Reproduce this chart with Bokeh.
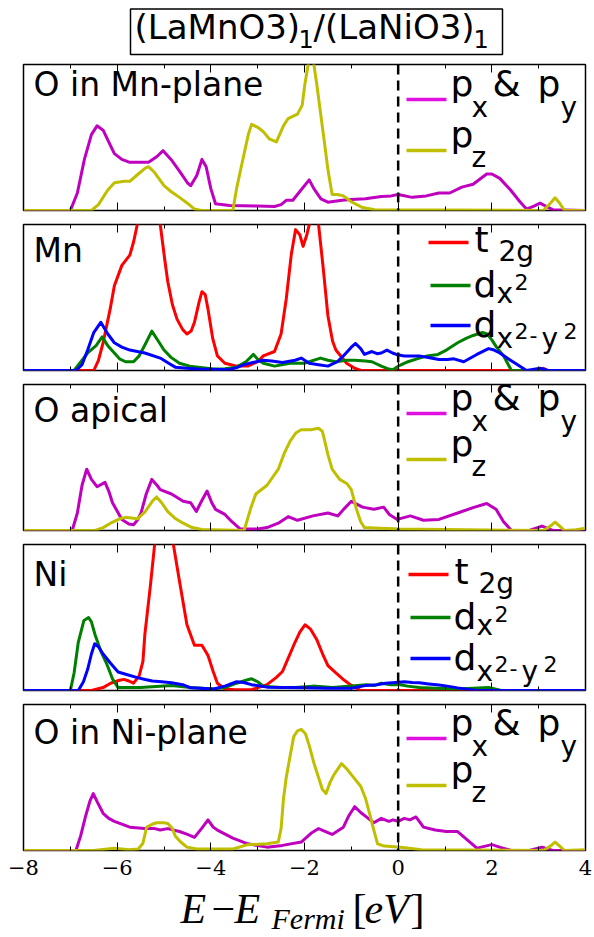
from bokeh.plotting import figure
from bokeh.models import Range1d, LinearAxis, FixedTicker, Span, Label
from bokeh.layouts import column
from bokeh.embed import file_html
from bokeh.resources import INLINE
from bokeh.core.properties import value

# ---------------- data ----------------
X_RANGE = (-8, 4)
MAJOR_TICKS = [-8, -6, -4, -2, 0, 2, 4]
MINOR_TICKS = [-7, -5, -3, -1, 1, 3]
TICK_LABELS = ["\u22128", "\u22126", "\u22124", "\u22122", "0", "2", "4"]
TITLE_PARTS = ["(LaMnO3)", "1", "/(LaNiO3)", "1"]
PANEL_NAMES = ["O in Mn-plane", "Mn", "O apical", "Ni", "O in Ni-plane"]

# Panel 1: O in Mn-plane
omn_pxy_x = [-8, -7.0, -6.85, -6.7, -6.55, -6.43, -6.3, -6.15, -6.06, -5.9, -5.73, -5.5, -5.33, -5.15, -5.02,
             -4.85, -4.67, -4.5, -4.43, -4.3, -4.19, -4.1, -4.0, -3.9, -3.6, -3.0, -2.64, -2.5, -2.39, -2.25,
             -2.1, -1.9, -1.8, -1.65, -1.5, -1.2, -1.0, -0.7, -0.36, -0.15, 0.0, 0.3, 0.6, 0.87, 1.1, 1.36,
             1.6, 1.89, 2.0, 2.17, 2.4, 2.6, 2.74, 2.9, 3.03, 3.15, 3.31, 4.0]
omn_pxy_y = [0, 0, 0.12, 0.35, 0.52, 0.58, 0.55, 0.45, 0.39, 0.35, 0.33, 0.33, 0.33, 0.37, 0.41,
             0.35, 0.27, 0.19, 0.17, 0.24, 0.35, 0.30, 0.15, 0.046, 0.035, 0.03, 0.027, 0.04, 0.07, 0.07,
             0.13, 0.21, 0.15, 0.08, 0.057, 0.07, 0.075, 0.08, 0.096, 0.10, 0.11, 0.09, 0.10, 0.12, 0.12, 0.16,
             0.18, 0.25, 0.25, 0.22, 0.14, 0.06, 0.01, 0.03, 0.05, 0.03, 0.005, 0]
omn_pz_x = [-8, -6.55, -6.4, -6.2, -6.06, -5.85, -5.73, -5.55, -5.4, -5.33, -5.2, -5.0, -4.85, -4.67, -4.5,
            -4.35, -4.2, -3.53, -3.45, -3.35, -3.2, -3.13, -3.0, -2.88, -2.75, -2.6, -2.45, -2.35, -2.15,
            -2.05, -1.99, -1.92, -1.86, -1.80, -1.74, -1.65, -1.58, -1.5, -1.41, -1.3, -1.17, -1.0, -0.76,
            -0.5, 3.1, 3.25, 3.35, 3.45, 3.55, 4.0]
omn_pz_y = [0, 0, 0.04, 0.14, 0.19, 0.20, 0.20, 0.25, 0.29, 0.30, 0.26, 0.17, 0.13, 0.09, 0.05,
            0.01, 0, 0, 0.15, 0.30, 0.52, 0.59, 0.57, 0.54, 0.49, 0.47, 0.58, 0.63, 0.66,
            0.72, 0.87, 1.0, 1.06, 1.0, 0.87, 0.65, 0.48, 0.28, 0.11, 0.11, 0.10, 0.06, 0.02,
            0.005, 0, 0.05, 0.087, 0.05, 0, 0]

# Panel 2: Mn
mn_t2g_x = [-8, -6.5, -6.4, -6.3, -6.15, -6.06, -5.9, -5.73, -5.65, -5.57, -5.45, -5.3, -5.15, -5.08, -4.98,
            -4.92, -4.82, -4.72, -4.6, -4.51, -4.42, -4.35, -4.25, -4.19, -4.12, -4.06, -3.96, -3.86, -3.7,
            -3.45, -3.21, -3.0, -2.88, -2.64, -2.5, -2.39, -2.28, -2.19, -2.1, -2.03, -1.95, -1.86, -1.78,
            -1.7, -1.6, -1.5, -1.4, -1.33, -1.1, -0.93, -0.8, 3.0, 3.1, 3.2, 4.0]
mn_t2g_y = [0, 0, 0.07, 0.19, 0.42, 0.58, 0.72, 0.79, 0.88, 1.0, 1.2, 1.3, 1.2, 1.0, 0.75,
            0.61, 0.45, 0.35, 0.28, 0.25, 0.27, 0.33, 0.47, 0.54, 0.52, 0.42, 0.22, 0.10, 0.05,
            0.03, 0.03, 0.06, 0.10, 0.13, 0.25, 0.49, 0.80, 0.965, 0.93, 0.85, 0.93, 1.05, 1.08,
            1.0, 0.70, 0.375, 0.20, 0.14, 0.05, 0.016, 0, 0, 0.015, 0, 0]
mn_dz2_x = [-8, -6.92, -6.8, -6.63, -6.45, -6.32, -6.2, -6.06, -5.95, -5.82, -5.65, -5.53, -5.4, -5.26, -5.12,
            -5.0, -4.85, -4.67, -4.45, -4.27, -3.94, -3.7, -3.45, -3.25, -3.09, -2.98, -2.88, -2.64, -2.31,
            -2.0, -1.66, -1.5, -1.33, -1.1, -0.93, -0.7, -0.56, -0.36, -0.2, -0.11, 0.0, 0.21, 0.4, 0.62,
            0.85, 1.03, 1.27, 1.45, 1.6, 1.8, 1.9, 2.0, 2.1, 2.25, 2.42, 4.0]
mn_dz2_y = [0, 0, 0.05, 0.12, 0.17, 0.23, 0.17, 0.12, 0.08, 0.06, 0.06, 0.10, 0.18, 0.27, 0.20,
            0.14, 0.09, 0.05, 0.03, 0.023, 0.01, 0.012, 0.023, 0.06, 0.11, 0.07, 0.05, 0.03, 0.05,
            0.05, 0.085, 0.07, 0.06, 0.07, 0.07, 0.065, 0.06, 0.03, 0.01, 0.005, 0.03, 0.06, 0.08, 0.10,
            0.11, 0.14, 0.19, 0.22, 0.24, 0.26, 0.25, 0.21, 0.16, 0.10, 0, 0]
mn_dx2y2_x = [-8, -6.88, -6.75, -6.63, -6.5, -6.35, -6.2, -6.06, -5.9, -5.73, -5.41, -5.08, -4.9, -4.76, -4.5,
              -4.27, -3.62, -3.45, -3.29, -3.1, -2.88, -2.7, -2.47, -2.2, -2.07, -1.9, -1.7, -1.5, -1.3,
              -1.17, -1.0, -0.91, -0.8, -0.72, -0.56, -0.45, -0.36, -0.24, -0.12, -0.04, 0.13, 0.45, 0.7,
              0.87, 1.05, 1.19, 1.4, 1.68, 1.93, 2.05, 2.17, 2.35, 2.5, 2.74, 3.03, 3.2, 4.0]
mn_dx2y2_y = [0, 0, 0.04, 0.14, 0.26, 0.33, 0.25, 0.19, 0.16, 0.14, 0.12, 0.085, 0.05, 0.023, 0.015,
              0.01, 0.005, 0.02, 0.04, 0.055, 0.07, 0.065, 0.055, 0.07, 0.085, 0.05, 0.04, 0.03, 0.06,
              0.10, 0.16, 0.185, 0.15, 0.11, 0.13, 0.115, 0.12, 0.14, 0.12, 0.11, 0.10, 0.10, 0.085,
              0.075, 0.075, 0.08, 0.06, 0.11, 0.15, 0.14, 0.12, 0.08, 0.05, 0, 0.015, 0, 0]

# Panel 3: O apical
oap_pxy_x = [-8, -6.96, -6.85, -6.75, -6.65, -6.55, -6.43, -6.26, -6.18, -6.10, -5.9, -5.75, -5.65, -5.57,
             -5.49, -5.38, -5.26, -5.15, -5.08, -4.84, -4.59, -4.43, -4.31, -4.2, -4.08, -3.98, -3.90, -3.70,
             -3.55, -3.37, -3.0, -2.80, -2.56, -2.35, -2.15, -1.82, -1.5, -1.29, -1.15, -1.0, -0.76, -0.52,
             -0.31, -0.19, -0.02, 0.26, 0.54, 0.87, 1.27, 1.60, 1.89, 2.09, 2.25, 2.42, 2.8, 3.07, 3.3, 4.0]
oap_pxy_y = [0, 0, 0.12, 0.31, 0.42, 0.35, 0.30, 0.33, 0.27, 0.19, 0.076, 0.045, 0.04, 0.07,
             0.12, 0.25, 0.35, 0.31, 0.28, 0.25, 0.20, 0.19, 0.13, 0.20, 0.27, 0.19, 0.145, 0.11,
             0.06, 0.01, 0.01, 0.02, 0.05, 0.095, 0.07, 0.10, 0.12, 0.10, 0.15, 0.20, 0.16, 0.145,
             0.16, 0.11, 0.076, 0.10, 0.07, 0.076, 0.12, 0.157, 0.185, 0.145, 0.06, 0, 0, 0.03, 0, 0]
oap_pz_x = [-8, -6.47, -6.3, -6.14, -5.95, -5.82, -5.57, -5.4, -5.25, -5.16, -5.05, -4.92, -4.75, -4.59, -4.4,
            -4.19, -3.29, -3.15, -3.04, -2.80, -2.56, -2.43, -2.31, -2.18, -2.07, -1.86, -1.70, -1.62, -1.58,
            -1.50, -1.41, -1.25, -1.09, -1.0, -0.89, -0.80, -0.72, -0.4, 0.05, 3.1, 3.25, 3.35, 3.45, 3.55,
            3.8, 4.0]
oap_pz_y = [0, 0, 0.02, 0.05, 0.08, 0.09, 0.08, 0.13, 0.20, 0.23, 0.19, 0.13, 0.08, 0.05, 0.02,
            0.007, 0, 0.15, 0.25, 0.31, 0.42, 0.53, 0.61, 0.67, 0.69, 0.69, 0.70, 0.68, 0.63,
            0.52, 0.42, 0.35, 0.32, 0.28, 0.145, 0.06, 0.02, 0.015, 0.01, 0.0, 0.03, 0.058, 0.03, 0,
            0.005, 0.015]

# Panel 4: Ni
ni_t2g_x = [-8, -6.55, -6.3, -6.14, -5.95, -5.86, -5.75, -5.65, -5.53, -5.45, -5.41, -5.35, -5.29, -5.2, -5.1,
            -5.0, -4.9, -4.8, -4.67, -4.51, -4.35, -4.25, -4.19, -4.06, -3.95, -3.86, -3.7, -3.5, -3.13,
            -2.80, -2.6, -2.47, -2.35, -2.23, -2.1, -1.99, -1.87, -1.74, -1.6, -1.5, -1.33, -1.15, -1.0,
            -0.8, 4.0]
ni_t2g_y = [0, 0, 0.02, 0.05, 0.07, 0.076, 0.065, 0.05, 0.10, 0.20, 0.38, 0.55, 0.72, 1.0, 1.2,
            1.25, 1.2, 1.0, 0.75, 0.45, 0.31, 0.31, 0.31, 0.24, 0.13, 0.05, 0.01, 0.005, 0.005,
            0.04, 0.09, 0.13, 0.22, 0.31, 0.40, 0.45, 0.42, 0.35, 0.24, 0.17, 0.12, 0.07, 0.035,
            0, 0]
ni_dz2_x = [-8, -7.0, -6.92, -6.83, -6.71, -6.61, -6.55, -6.47, -6.35, -6.22, -6.1, -5.98, -5.5, -5.25, -4.84,
            -4.43, -3.94, -3.7, -3.45, -3.25, -3.13, -3.0, -2.88, -2.5, -2.2, -1.82, -1.4, -1.0, -0.68,
            -0.5, -0.36, -0.15, 0.05, 0.2, 0.45, 0.8, 1.27, 1.6, 1.93, 2.2, 4.0]
ni_dz2_y = [0, 0, 0.12, 0.33, 0.48, 0.50, 0.47, 0.38, 0.27, 0.18, 0.08, 0.02, 0.02, 0.025, 0.035,
            0.02, 0.01, 0.02, 0.05, 0.07, 0.08, 0.06, 0.03, 0.02, 0.02, 0.03, 0.02, 0.03, 0.04,
            0.035, 0.05, 0.04, 0.04, 0.03, 0.02, 0.015, 0.01, 0.015, 0.02, 0, 0]
ni_dx2y2_x = [-8, -6.83, -6.72, -6.63, -6.55, -6.48, -6.40, -6.30, -6.15, -5.98, -5.8, -5.57, -5.4, -5.25,
              -5.05, -4.84, -4.6, -4.43, -3.94, -3.7, -3.45, -3.3, -3.13, -2.80, -2.4, -1.99, -1.5, -1.0,
              -0.68, -0.45, -0.27, -0.05, 0.13, 0.3, 0.45, 0.65, 0.87, 1.05, 1.27, 1.68, 4.0]
ni_dx2y2_y = [0, 0, 0.06, 0.145, 0.25, 0.32, 0.30, 0.25, 0.19, 0.127, 0.11, 0.088, 0.075, 0.065,
              0.06, 0.053, 0.04, 0.018, 0.01, 0.03, 0.06, 0.055, 0.04, 0.023, 0.02, 0.018, 0.015, 0.015,
              0.035, 0.04, 0.05, 0.055, 0.06, 0.055, 0.053, 0.045, 0.037, 0.03, 0.018, 0, 0]

# Panel 5: O in Ni-plane
oni_pxy_x = [-8, -6.88, -6.78, -6.67, -6.58, -6.51, -6.42, -6.30, -6.18, -6.06, -5.9, -5.73, -5.41, -5.2,
             -5.08, -4.92, -4.67, -4.5, -4.35, -4.2, -4.06, -3.95, -3.86, -3.53, -3.21, -2.80, -2.47, -2.07,
             -1.85, -1.70, -1.55, -1.41, -1.17, -1.05, -0.93, -0.80, -0.68, -0.52, -0.36, -0.20, -0.11, 0.0,
             0.13, 0.25, 0.38, 0.54, 0.79, 1.03, 1.27, 1.45, 1.68, 2.0, 2.2, 2.42, 2.8, 3.07, 3.3, 4.0]
oni_pxy_y = [0, 0, 0.10, 0.24, 0.34, 0.39, 0.33, 0.255, 0.22, 0.20, 0.18, 0.16, 0.15, 0.15,
             0.14, 0.15, 0.13, 0.11, 0.09, 0.15, 0.21, 0.16, 0.14, 0.085, 0.046, 0.023, 0.035, 0.058,
             0.12, 0.15, 0.13, 0.11, 0.16, 0.24, 0.30, 0.26, 0.23, 0.19, 0.22, 0.20, 0.21, 0.20,
             0.22, 0.21, 0.23, 0.16, 0.14, 0.13, 0.13, 0.08, 0.016, 0.04, 0.02, 0, 0, 0.023, 0, 0]
oni_pz_x = [-8, -6.5, -6.06, -5.75, -5.55, -5.45, -5.37, -5.25, -5.16, -5.0, -4.92, -4.82, -4.76, -4.65, -4.51,
            -4.3, -4.02, -3.53, -3.21, -2.80, -2.56, -2.50, -2.45, -2.39, -2.30, -2.23, -2.15, -2.07, -1.98,
            -1.90, -1.80, -1.70, -1.62, -1.54, -1.45, -1.37, -1.21, -1.1, -1.0, -0.80, -0.70, -0.60, -0.52,
            -0.44, -0.3, 0.05, 0.5, 3.1, 3.25, 3.35, 3.45, 3.55, 4.0]
oni_pz_y = [0, 0, 0.016, 0.005, 0.01, 0.05, 0.16, 0.18, 0.19, 0.19, 0.185, 0.15, 0.10, 0.06, 0.023,
            0.01, 0.01, 0.01, 0.04, 0.046, 0.058, 0.15, 0.35, 0.50, 0.66, 0.78, 0.82, 0.83, 0.80,
            0.72, 0.60, 0.50, 0.42, 0.39, 0.47, 0.52, 0.595, 0.56, 0.52, 0.44, 0.36, 0.24, 0.14,
            0.046, 0.03, 0.023, 0.005, 0, 0.03, 0.058, 0.03, 0, 0.005]

# ---------------- style / layout ----------------
MAGENTA = "#bf00bf"
MAGENTA_LEG = "#e010e0"
YELLOW = "#bfbf00"
RED = "#ff0000"
GREEN = "#008000"
BLUE = "#0000ff"
SANS = "DejaVu Sans"
SERIF = "Liberation Serif"

FIG_W = 592
FRAME_L = 23
FRAME_W = 562
FRAME_H = 146
BORDER_L = FRAME_L
BORDER_R = FIG_W - BORDER_L - FRAME_W
FRAME_TOPS = [64, 224, 384, 544, 704]
LABEL_BASE = [96, 262, 422, 586, 744]
BOTTOM_BORDER = 34
MAIN_FS = 36
SUB_FS = 28
SUP_FS = 22
SANS_SHIFT = 0.37    # empirical baseline correction (em) for rendered alphabetic baseline
SERIF_SHIFT = 0.31


def anchor(baseline, size, shift=SANS_SHIFT):
    return baseline - shift * size


def xd(px):
    return X_RANGE[0] + (px - FRAME_L) * (X_RANGE[1] - X_RANGE[0]) / FRAME_W


def yd(py, top):
    return 1.0 - (py - top) / FRAME_H


def make_panel(i, series, legend, bottom_labels):
    top = FRAME_TOPS[i]
    p = figure(frame_width=FRAME_W, frame_height=FRAME_H,
               x_range=Range1d(*X_RANGE), y_range=Range1d(0, 1),
               output_backend="svg", toolbar_location=None,
               x_axis_location=None, y_axis_location=None,
               min_border_left=BORDER_L, min_border_right=BORDER_R,
               min_border_top=7, min_border_bottom=BOTTOM_BORDER if bottom_labels else 7)
    p.grid.visible = False
    p.outline_line_color = "black"
    p.outline_line_width = 1.5
    p.background_fill_color = "white"
    p.border_fill_color = "white"
    for loc in ("below", "above"):
        ax = LinearAxis(ticker=FixedTicker(ticks=MAJOR_TICKS, minor_ticks=MINOR_TICKS))
        ax.axis_line_color = None
        ax.major_tick_in = 8
        ax.major_tick_out = 0
        ax.minor_tick_in = 4
        ax.minor_tick_out = 0
        ax.major_tick_line_color = "black"
        ax.minor_tick_line_color = "black"
        if loc == "below" and bottom_labels:
            ax.major_label_overrides = dict(zip(MAJOR_TICKS, TICK_LABELS))
            ax.major_label_text_font = "DejaVu Serif"
            ax.major_label_text_font_size = "21px"
            ax.major_label_text_color = "black"
            ax.major_label_standoff = 9
        else:
            ax.major_label_overrides = {t: "" for t in MAJOR_TICKS}
            ax.major_label_text_font_size = "0px"
            ax.major_label_standoff = 0
        p.add_layout(ax, loc)

    p.add_layout(Span(location=0, dimension="height", line_color="black",
                      line_width=2.5, line_dash="10 6"))

    for xs, ys, color in series:
        p.line(xs, ys, line_width=3, line_color=color, line_join="round")

    p.add_layout(Label(x=xd(33), y=yd(anchor(LABEL_BASE[i], 33), top), text=PANEL_NAMES[i],
                       text_font=SANS, text_font_size="33px", text_baseline="alphabetic",
                       text_align="left", text_color="black"))

    for (lx0, lx1, ly, color), frags in legend:
        p.segment(x0=[xd(lx0)], y0=[yd(ly, top)], x1=[xd(lx1)], y1=[yd(ly, top)],
                  line_color=color, line_width=3.5)
        for txt, px, py, size in frags:
            p.add_layout(Label(x=xd(px), y=yd(anchor(py, size), top), text=txt, text_font=SANS,
                               text_font_size=f"{size}px", text_baseline="alphabetic",
                               text_align="left", text_color="black"))
    return p


def o_legend(ly1, ly2):
    return [
        ((406, 446, ly1, MAGENTA_LEG), [("p", 450, ly1 - 3, MAIN_FS), ("x", 471, ly1 + 18, SUB_FS),
                                        ("&", 492, ly1 - 3, MAIN_FS), ("p", 537, ly1 - 3, MAIN_FS),
                                        ("y", 560, ly1 + 18, SUB_FS)]),
        ((406, 446, ly2, YELLOW), [("p", 450, ly2 - 3, MAIN_FS), ("z", 471, ly2 + 17, SUB_FS)]),
    ]


def d_legend(x0, ly1, ly2, ly3):
    s = x0 - 428
    return [
        ((x0, x0 + 40, ly1, RED), [("t", 474 + s, ly1 + 10, MAIN_FS), ("2g", 498 + s, ly1 + 19, SUB_FS)]),
        ((x0 + 2, x0 + 42, ly2, GREEN), [("d", 473 + s, ly2 + 12, MAIN_FS), ("x", 496 + s, ly2 + 18, SUB_FS),
                                         ("2", 514 + s, ly2 + 5, SUP_FS)]),
        ((x0 + 2, x0 + 42, ly3, BLUE), [("d", 473 + s, ly3 + 12, MAIN_FS), ("x", 496 + s, ly3 + 23, SUB_FS),
                                        ("2", 514 + s, ly3 + 14, SUP_FS), ("-", 529 + s, ly3 + 18, SUP_FS),
                                        ("y", 541 + s, ly3 + 23, SUB_FS), ("2", 563 + s, ly3 + 14, SUP_FS)]),
    ]


panels = [
    make_panel(0, [(omn_pxy_x, omn_pxy_y, MAGENTA), (omn_pz_x, omn_pz_y, YELLOW)],
               o_legend(99, 150), False),
    make_panel(1, [(mn_t2g_x, mn_t2g_y, RED), (mn_dz2_x, mn_dz2_y, GREEN), (mn_dx2y2_x, mn_dx2y2_y, BLUE)],
               d_legend(428, 242, 285, 325), False),
    make_panel(2, [(oap_pxy_x, oap_pxy_y, MAGENTA), (oap_pz_x, oap_pz_y, YELLOW)],
               o_legend(413, 459), False),
    make_panel(3, [(ni_t2g_x, ni_t2g_y, RED), (ni_dz2_x, ni_dz2_y, GREEN), (ni_dx2y2_x, ni_dx2y2_y, BLUE)],
               d_legend(408, 574, 617, 658), False),
    make_panel(4, [(oni_pxy_x, oni_pxy_y, MAGENTA), (oni_pz_x, oni_pz_y, YELLOW)],
               o_legend(738, 785), True),
]


def blank_fig(page_top, h):
    # same frame geometry as the panels; data coordinates equal page pixels
    f = figure(frame_width=FRAME_W, frame_height=h,
               x_range=Range1d(FRAME_L, FRAME_L + FRAME_W), y_range=Range1d(page_top + h, page_top),
               output_backend="svg", toolbar_location=None,
               x_axis_location=None, y_axis_location=None,
               min_border_left=BORDER_L, min_border_right=BORDER_R,
               min_border_top=0, min_border_bottom=0)
    f.grid.visible = False
    f.outline_line_color = None
    f.background_fill_color = "white"
    f.border_fill_color = "white"
    return f


# Title (page y 0..57)
tf = blank_fig(0, 57)
tf.quad(left=[130], right=[502], top=[8.5], bottom=[54],
        fill_color=None, line_color="black", line_width=1.5)
title_pos = [(134, 39.5, 34), (298, 47.5, 24), (313, 39.5, 34), (473, 47.5, 24)]
for txt, (px, py, size) in zip(TITLE_PARTS, title_pos):
    tf.text(x=[px], y=[anchor(py, size)], text=[txt], text_font=value(SANS),
            text_font_size=value(f"{size}px"), text_baseline="alphabetic", text_align="left",
            text_color="black")

# X label (page y 884..936)
XL_TOP = FRAME_TOPS[4] + FRAME_H + BOTTOM_BORDER
XL_H = 936 - XL_TOP
xf = blank_fig(XL_TOP, XL_H)
xl_parts = [("E", 180, 922, 42, "italic"), ("\u2212", 211, 922, 42, "normal"),
            ("E", 234, 922, 42, "italic"), ("Fermi", 271, 927, 30, "italic"),
            ("[", 352, 922, 42, "normal"), ("eV", 364, 922, 42, "italic"),
            ("]", 410, 922, 42, "normal")]
for txt, px, py, size, style in xl_parts:
    ya = min(anchor(py, size, SERIF_SHIFT), XL_TOP + XL_H - 0.5)
    xf.text(x=[px], y=[ya], text=[txt], text_font=value(SERIF),
            text_font_size=value(f"{size}px"), text_font_style=style, text_baseline="alphabetic",
            text_align="left", text_color="black")

layout = column([tf] + panels + [xf], spacing=0)
open("out.html", "w").write(file_html(layout, INLINE))
